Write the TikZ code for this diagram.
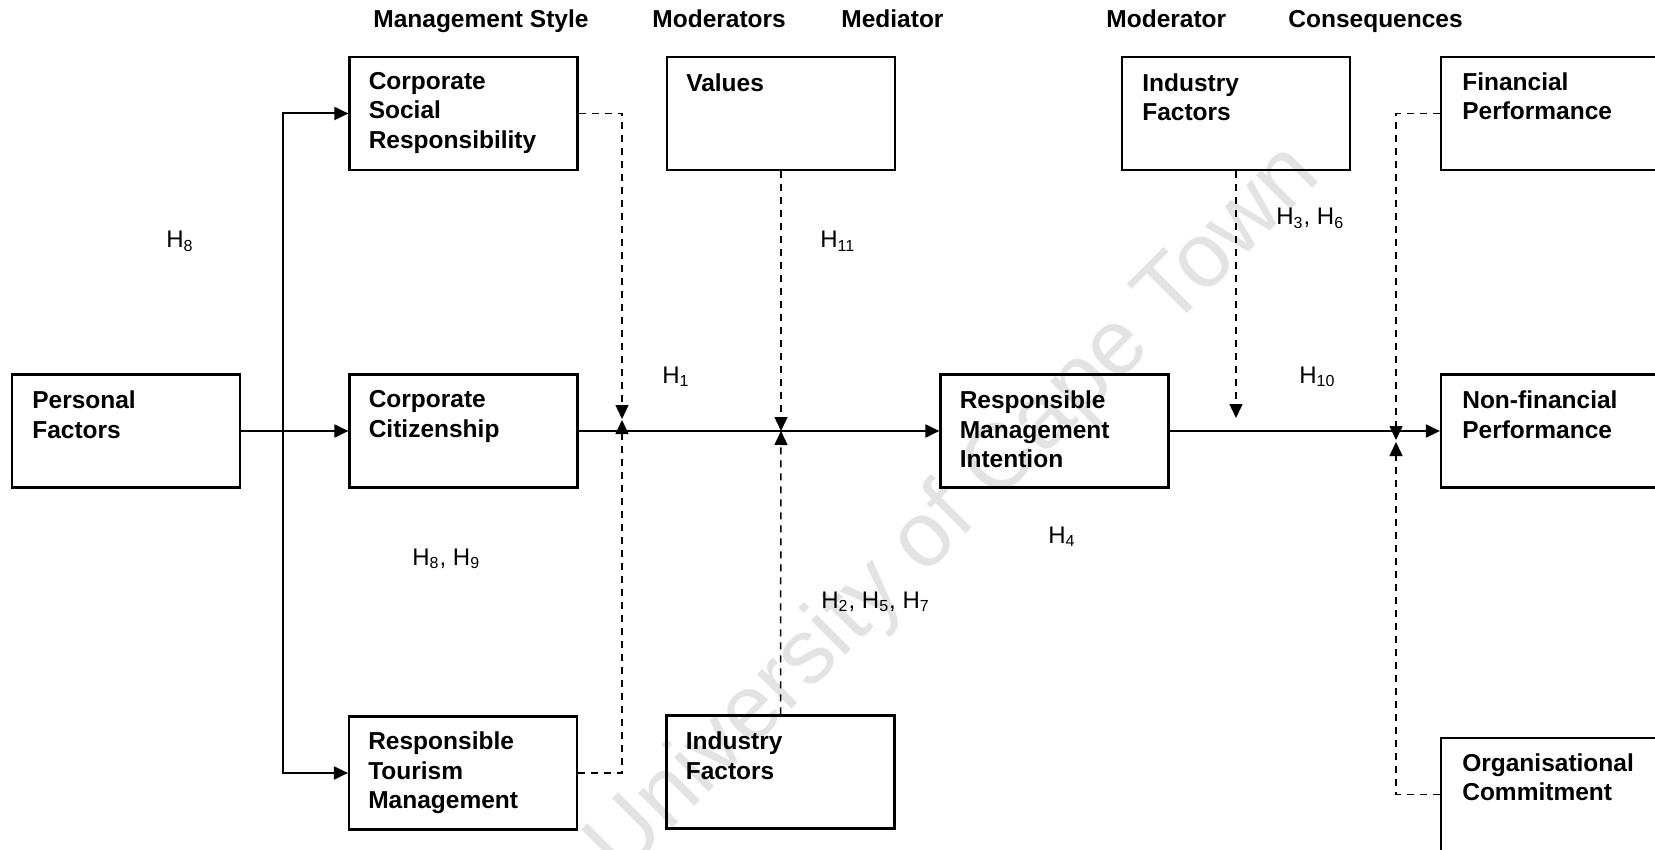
\documentclass[tikz,border=0pt]{standalone}
\usepackage{fontspec}
\setmainfont{Liberation Sans}
\usetikzlibrary{arrows.meta}
\tikzset{
  box/.style={draw, line width=1.1pt, inner sep=0pt, minimum width=114pt, minimum height=56.5pt},
  btxt/.style={anchor=north west, inner sep=0pt, align=left, font=\fontsize{12.25pt}{14.75pt}\selectfont\bfseries},
  head/.style={anchor=base west, inner sep=0pt, font=\fontsize{12.25pt}{14.5pt}\selectfont\bfseries},
  hyp/.style={anchor=base west, inner sep=0pt, font=\fontsize{12pt}{14pt}\selectfont},
  arr/.style={line width=1pt, -{Triangle[length=7pt,width=6.5pt]}},
  darr/.style={line width=0.75pt, dash pattern=on 3.5pt off 3pt, -{Triangle[length=7pt,width=6.5pt]}},
  wm/.style={text=black!11, inner sep=0pt, font=\fontsize{46pt}{50pt}\selectfont}
}
\begin{document}
\begin{tikzpicture}[x=0.5pt,y=-0.5pt]
\useasboundingbox (0,0) rectangle (1655,850);
\clip (0,0) rectangle (1655,850);

% watermark
\node[wm, rotate=45] (wmk) at (955,512) {University of Cape Town};

% headers
\node[head] (h1) at (373,28) {Management Style};
\node[head] (h2) at (652,28) {Moderators};
\node[head] (h3) at (841,28) {Mediator};
\node[head] (h4) at (1106,28) {Moderator};
\node[head] (h5) at (1288,28) {Consequences};

% boxes
\node[box] (pf)  at (126,431) {};
\node[box] (csr) at (463.5,113.5) {};
\node[box] (cc)  at (463.5,431) {};
\node[box] (rtm) at (463,773) {};
\node[box] (val) at (781,113.5) {};
\node[box] (ifb) at (780.5,772) {};
\node[box] (rmi) at (1054.5,431) {};
\node[box] (ift) at (1236,113.5) {};
\node[box] (fp)  at (1555,113.5) {};
\node[box] (nfp) at (1555,431) {};
\node[box] (oc)  at (1555,794.5) {};

% box texts
\node[btxt] (pft)  at ([shift={(21,17)}]pf.north west) {Personal\\Factors};
\node[btxt] (csrt) at ([shift={(20,16)}]csr.north west) {Corporate\\Social\\Responsibility};
\node[btxt] (cct)  at ([shift={(20,17)}]cc.north west) {Corporate\\Citizenship};
\node[btxt] (rtmt) at ([shift={(20,16)}]rtm.north west) {Responsible\\Tourism\\Management};
\node[btxt] (valt) at ([shift={(20,17)}]val.north west) {Values};
\node[btxt] (ifbt) at ([shift={(20,17)}]ifb.north west) {Industry\\Factors};
\node[btxt] (rmit) at ([shift={(20,17)}]rmi.north west) {Responsible\\Management\\Intention};
\node[btxt] (iftt) at ([shift={(21,17)}]ift.north west) {Industry\\Factors};
\node[btxt] (fpt)  at ([shift={(22,16)}]fp.north west) {Financial\\Performance};
\node[btxt] (nfpt) at ([shift={(22,17)}]nfp.north west) {Non-financial\\Performance};
\node[btxt] (oct)  at ([shift={(22,16)}]oc.north west) {Organisational\\Commitment};

% hypothesis labels
\node[hyp] (l8)   at (166,248) {H\textsubscript{8}};
\node[hyp] (l1)   at (662,383) {H\textsubscript{1}};
\node[hyp] (l11)  at (820,248) {H\textsubscript{11}};
\node[hyp] (l36)  at (1276,225) {H\textsubscript{3}, H\textsubscript{6}};
\node[hyp] (l10)  at (1299,383) {H\textsubscript{10}};
\node[hyp] (l4)   at (1048,543) {H\textsubscript{4}};
\node[hyp] (l89)  at (412,565) {H\textsubscript{8}, H\textsubscript{9}};
\node[hyp] (l257) at (821,608) {H\textsubscript{2}, H\textsubscript{5}, H\textsubscript{7}};

% junction coordinates
\coordinate (jn) at (283,431);
\coordinate (m1a) at (622,419);
\coordinate (m1b) at (622,420);
\coordinate (m2) at (781,431);
\coordinate (m3) at (1236,418);
\coordinate (m4) at (1396,440);
\coordinate (m5) at (1396,442);

% solid connectors
\draw[arr] (pf.east) -- (cc.west);
\draw[arr] (jn) |- (csr.west);
\draw[arr] (jn) |- (rtm.west);
\draw[arr] (cc.east) -- (rmi.west);
\draw[arr] (rmi.east) -- (nfp.west);

% dashed moderator connectors
\draw[darr] (csr.east) -| (m1a);
\draw[darr] (rtm.east) -| (m1b);
\draw[darr] (val.south) -- (m2);
\draw[darr] (ifb.north) -- (m2);
\draw[darr] (ift.south) -- (m3);
\draw[darr] (fp.west) -| (m4);
\draw[darr] (oc.west) -| (m5);
\end{tikzpicture}
\end{document}
